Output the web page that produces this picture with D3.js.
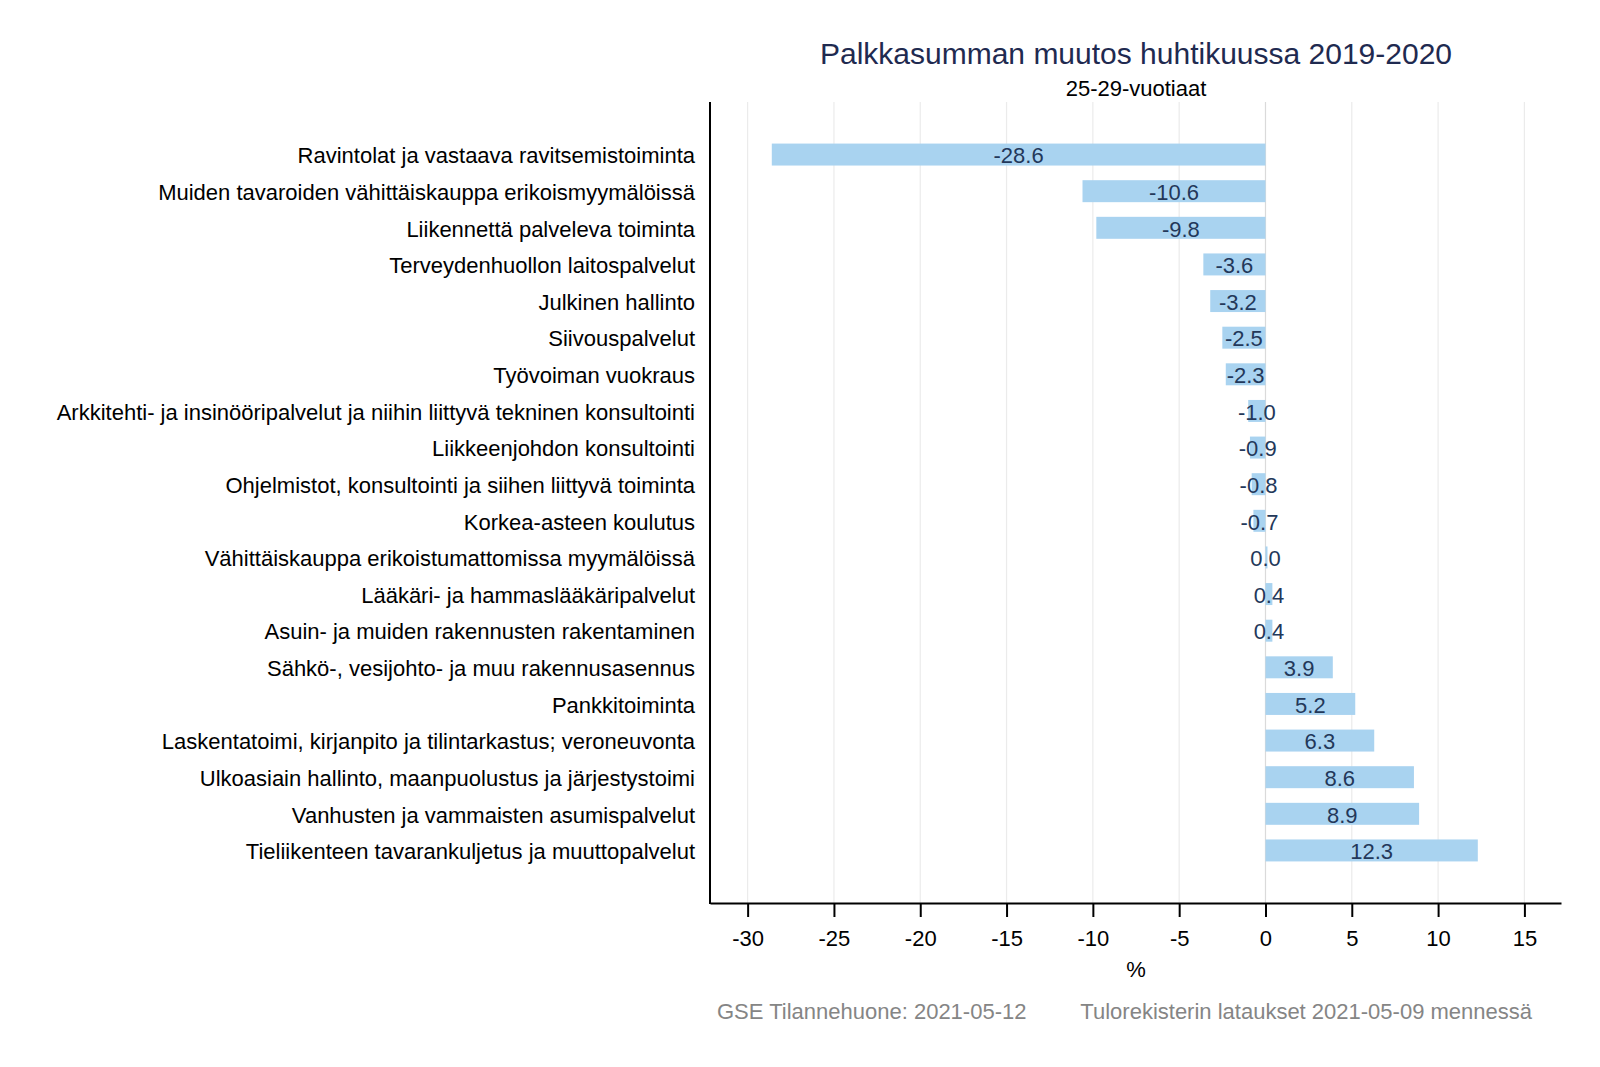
<!DOCTYPE html>
<html>
<head>
<meta charset="utf-8">
<script src="https://cdn.jsdelivr.net/npm/d3@7"></script>
<style>
  html, body { margin: 0; padding: 0; background: #fff; }
  svg { display: block; font-family: "Liberation Sans", Arial, sans-serif; }
</style>
</head>
<body>
<svg id="chart" width="1600" height="1067"></svg>
<script>
const categories = [
  "Ravintolat ja vastaava ravitsemistoiminta",
  "Muiden tavaroiden vähittäiskauppa erikoismyymälöissä",
  "Liikennettä palveleva toiminta",
  "Terveydenhuollon laitospalvelut",
  "Julkinen hallinto",
  "Siivouspalvelut",
  "Työvoiman vuokraus",
  "Arkkitehti- ja insinööripalvelut ja niihin liittyvä tekninen konsultointi",
  "Liikkeenjohdon konsultointi",
  "Ohjelmistot, konsultointi ja siihen liittyvä toiminta",
  "Korkea-asteen koulutus",
  "Vähittäiskauppa erikoistumattomissa myymälöissä",
  "Lääkäri- ja hammaslääkäripalvelut",
  "Asuin- ja muiden rakennusten rakentaminen",
  "Sähkö-, vesijohto- ja muu rakennusasennus",
  "Pankkitoiminta",
  "Laskentatoimi, kirjanpito ja tilintarkastus; veroneuvonta",
  "Ulkoasiain hallinto, maanpuolustus ja järjestystoimi",
  "Vanhusten ja vammaisten asumispalvelut",
  "Tieliikenteen tavarankuljetus ja muuttopalvelut"
];
const values = [-28.6, -10.6, -9.8, -3.6, -3.2, -2.5, -2.3, -1.0, -0.9, -0.8, -0.7, 0.0, 0.4, 0.4, 3.9, 5.2, 6.3, 8.6, 8.9, 12.3];
const xTicks = [-30, -25, -20, -15, -10, -5, 0, 5, 10, 15];
const title = "Palkkasumman muutos huhtikuussa 2019-2020";
const subtitle = "25-29-vuotiaat";
const xLabel = "%";
const footerLeft = "GSE Tilannehuone: 2021-05-12";
const footerRight = "Tulorekisterin lataukset 2021-05-09 mennessä";

const svg = d3.select("#chart");
const pLeft = 710, pRight = 1561, pTop = 102, pBottom = 903;

const x = d3.scaleLinear().domain([-32.18, 17.12]).range([pLeft, pRight]);
const y = d3.scaleBand().domain(categories).range([pTop, pBottom]).paddingInner(0.4).paddingOuter(1.135);

// gridlines
svg.append("g").selectAll("line").data(xTicks).join("line")
  .attr("x1", d => x(d)).attr("x2", d => x(d))
  .attr("y1", pTop).attr("y2", pBottom)
  .attr("stroke", d => d === 0 ? "#dadada" : "#ebebeb")
  .attr("stroke-width", 1.2);

// bars
const data = categories.map((c, i) => ({ c, v: values[i] }));
svg.append("g").selectAll("rect").data(data).join("rect")
  .attr("x", d => x(Math.min(0, d.v)))
  .attr("width", d => Math.max(Math.abs(x(d.v) - x(0)), 2))
  .attr("y", d => y(d.c))
  .attr("height", y.bandwidth())
  .attr("fill", "#a9d3f0");

// value labels
svg.append("g").selectAll("text").data(data).join("text")
  .attr("x", d => x(d.v / 2))
  .attr("y", d => y(d.c) + y.bandwidth() / 2)
  .attr("dy", "0.4em")
  .attr("text-anchor", "middle")
  .attr("font-size", 22)
  .attr("fill", "#23385a")
  .text(d => d.v.toFixed(1));

// category labels
svg.append("g").selectAll("text").data(categories).join("text")
  .attr("x", pLeft - 15)
  .attr("y", d => y(d) + y.bandwidth() / 2)
  .attr("dy", "0.4em")
  .attr("text-anchor", "end")
  .attr("font-size", 22)
  .attr("fill", "#000")
  .text(d => d);

// y axis line
svg.append("line").attr("x1", pLeft).attr("x2", pLeft).attr("y1", pTop).attr("y2", pBottom + 1)
  .attr("stroke", "#000").attr("stroke-width", 2);

// x axis
const xAxis = svg.append("g").attr("transform", `translate(0,${pBottom})`)
  .call(d3.axisBottom(x).tickValues(xTicks).tickSize(14).tickSizeOuter(0).tickPadding(13).tickFormat(d3.format("d")));
xAxis.select(".domain").attr("stroke", "#000").attr("stroke-width", 2);
xAxis.selectAll(".tick line").attr("stroke", "#000").attr("stroke-width", 2);
xAxis.selectAll(".tick text").attr("font-size", 22).attr("fill", "#000")
  .attr("font-family", "Liberation Sans, Arial, sans-serif")
  .text(d => d < 0 ? "-" + Math.abs(d) : d);

// x label
svg.append("text").attr("x", 1136).attr("y", 977).attr("text-anchor", "middle")
  .attr("font-size", 22).attr("fill", "#000").text(xLabel);

// title
svg.append("text").attr("x", 1136).attr("y", 64).attr("text-anchor", "middle")
  .attr("font-size", 30).attr("fill", "#1f2a50").text(title);
svg.append("text").attr("x", 1136).attr("y", 96).attr("text-anchor", "middle")
  .attr("font-size", 22).attr("fill", "#000").text(subtitle);

// footer
svg.append("text").attr("x", 717).attr("y", 1019).attr("text-anchor", "start")
  .attr("font-size", 22).attr("fill", "#858585").text(footerLeft);
svg.append("text").attr("x", 1532).attr("y", 1019).attr("text-anchor", "end")
  .attr("font-size", 22).attr("fill", "#858585").text(footerRight);
</script>
</body>
</html>
